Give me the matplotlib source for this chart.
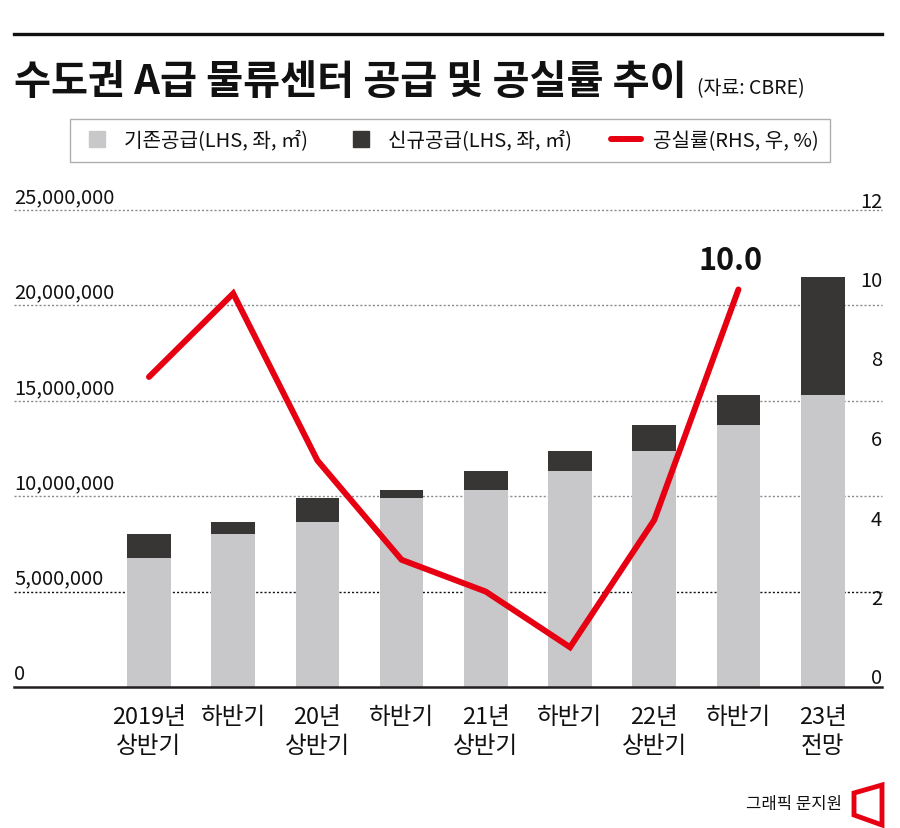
import matplotlib
matplotlib.use("Agg")
import matplotlib.pyplot as plt
from matplotlib.lines import Line2D
from matplotlib.patches import Polygon
import matplotlib.transforms as mtransforms

plt.rcParams['font.family'] = ['Noto Sans CJK KR', 'DejaVu Sans']

# 데이터
periods = ["2019년\n상반기", "하반기", "20년\n상반기", "하반기", "21년\n상반기",
           "하반기", "22년\n상반기", "하반기", "23년\n전망"]
existing_supply = [6760000, 8020000, 8630000, 9890000, 10340000,
                   11340000, 12350000, 13750000, 15320000]
new_supply = [1260000, 610000, 1260000, 450000, 1000000,
              1010000, 1400000, 1570000, 6150000]
vacancy = [7.8, 9.9, 5.7, 3.2, 2.4, 1.0, 4.2, 10.0]

left_ticks = [0, 5000000, 10000000, 15000000, 20000000, 25000000]
right_ticks = [0, 2, 4, 6, 8, 10, 12]

C_EXIST = "#c8c8ca"
C_NEW = "#383634"
C_RED = "#e60012"

W, H = 900, 829
fig = plt.figure(figsize=(W / 100, H / 100), dpi=100)

# --------------------------------------------------------
ax = fig.add_axes([14 / W, (H - 688) / H, 868 / W, 477 / H])
ax2 = ax.twinx()

x = list(range(len(periods)))
ax.bar(x, existing_supply, width=0.52, color=C_EXIST, zorder=2)
ax.bar(x, new_supply, width=0.52, bottom=existing_supply, color=C_NEW, zorder=2)

ax.set_xlim(-1.603, 8.705)
ax.set_ylim(0, 25000000)
ax2.set_ylim(0, 12)

for t in left_ticks[1:]:
    col = "#111111" if t == 5000000 else "#8a8a8a"
    ax.axhline(t, color=col, lw=1.0, ls=(0, (1.5, 1.5)), zorder=1, clip_on=False)
ax.axhline(0, color="#231f20", lw=1.8, zorder=3, clip_on=False)

# 왼쪽 눈금 (그리드 위에 왼쪽 정렬)
off_up = mtransforms.offset_copy(ax.transData, fig=fig, x=0, y=3, units='dots')
blend_l = mtransforms.blended_transform_factory(ax.transAxes, off_up)
for t in left_ticks:
    ax.text(0, t, f"{t:,}", transform=blend_l, ha='left', va='bottom',
            fontsize=14.5, color="#111111")

# 오른쪽 눈금
off_r = mtransforms.offset_copy(ax2.transData, fig=fig, x=0, y=9, units='dots')
blend_r = mtransforms.blended_transform_factory(ax2.transAxes, off_r)
for t in right_ticks:
    ax2.text(1, t, f"{t}", transform=blend_r, ha='right', va='center',
             fontsize=14.5, color="#111111")

ax2.plot(x[:len(vacancy)], vacancy, color=C_RED, lw=4.3,
         solid_capstyle='round', solid_joinstyle='miter', zorder=5)
ax2.annotate(f"{vacancy[-1]:.1f}", xy=(len(vacancy) - 1, vacancy[-1]),
             xytext=(-6, 10), textcoords='offset points', ha='center', va='bottom',
             fontsize=22, fontweight='bold', color="#111111")

for a in (ax, ax2):
    for s in a.spines.values():
        s.set_visible(False)
    a.tick_params(left=False, right=False, labelleft=False, labelright=False)
ax.set_xticks(x)
ax.set_xticklabels(periods, fontsize=17, linespacing=1.35, color="#111111")
ax.tick_params(axis='x', length=0, pad=13)
ax.set_yticks([])
ax2.set_yticks([])

# --------------------------------------------------------
# 제목
fig.add_artist(Line2D([14 / W, 882 / W], [1 - 35 / H, 1 - 35 / H],
                      transform=fig.transFigure, color="#111111", lw=2.4))
title = fig.text(14 / W, 1 - 94 / H, "수도권 A급 물류센터 공급 및 공실률 추이",
                 fontsize=29, fontweight='bold', va='baseline', color="#111111")
fig.canvas.draw()
bb = title.get_window_extent(renderer=fig.canvas.get_renderer())
fig.text((bb.x1 + 10) / W, 1 - 94 / H, "(자료: CBRE)", fontsize=14,
         va='baseline', color="#111111")

# 범례
handles = [
    Line2D([], [], ls='none', marker='s', markersize=12, color=C_EXIST),
    Line2D([], [], ls='none', marker='s', markersize=12, color=C_NEW),
    Line2D([], [], color=C_RED, lw=4.3, solid_capstyle='round'),
]
labels = ["기존공급(LHS, 좌, ㎡)", "신규공급(LHS, 좌, ㎡)", "공실률(RHS, 우, %)"]
leg = fig.legend(handles, labels, loc='center', bbox_to_anchor=(450 / W, 1 - 141.5 / H),
                 ncol=3, frameon=True, fancybox=False, fontsize=14.5,
                 handlelength=1.5, handletextpad=0.6, columnspacing=1.9,
                 borderpad=0.55, labelcolor="#111111")
leg.get_frame().set_edgecolor("#9a9a9a")
leg.get_frame().set_linewidth(1.0)

# 출처
fig.text(842 / W, 1 - 805 / H, "그래픽 문지원", fontsize=12, ha='right', va='center',
         color="#111111")
fig.add_artist(Polygon([(854 / W, 1 - 794 / H), (882 / W, 1 - 786 / H),
                        (882 / W, 1 - 826 / H), (854 / W, 1 - 816 / H)],
                       closed=True, transform=fig.transFigure, facecolor='white',
                       edgecolor=C_RED, lw=3.5))

fig.savefig("out.png", dpi=100)
